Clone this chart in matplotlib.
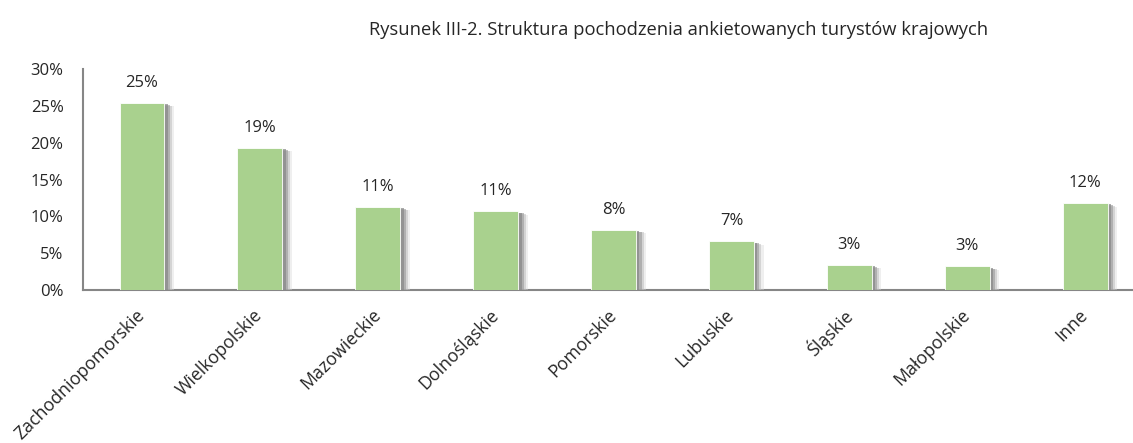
import numpy as np
import matplotlib
matplotlib.use('Agg')
import matplotlib.pyplot as plt
import matplotlib.patheffects as pe
from matplotlib.ticker import FuncFormatter

# dane
regiony = ['Zachodniopomorskie', 'Wielkopolskie', 'Mazowieckie', 'Dolnośląskie',
           'Pomorskie', 'Lubuskie', 'Śląskie', 'Małopolskie', 'Inne']
udzial = [25.4, 19.3, 11.3, 10.7, 8.2, 6.6, 3.4, 3.2, 11.8]
etykiety = ['25%', '19%', '11%', '11%', '8%', '7%', '3%', '3%', '12%']
y_ticks = [0, 5, 10, 15, 20, 25, 30]

plt.rcParams['font.family'] = ['Open Sans', 'DejaVu Sans']

W, H = 1133, 443
fig = plt.figure(figsize=(W / 100, H / 100), dpi=100)
ax = fig.add_axes([83 / W, (H - 290) / H, (1133 - 83) / W, 221 / H])

x = np.arange(len(regiony))
# cien slupkow - kilka warstw zeby wygladal na rozmyty
shadow = [pe.SimplePatchShadow(offset=(7, -2.5), shadow_rgbFace='#d8d8d8', alpha=0.4),
          pe.SimplePatchShadow(offset=(5.5, -2), shadow_rgbFace='#bbbbbb', alpha=0.5),
          pe.SimplePatchShadow(offset=(4, -1.5), shadow_rgbFace='#999999', alpha=0.6),
          pe.SimplePatchShadow(offset=(2.5, -1), shadow_rgbFace='#888888', alpha=0.7),
          pe.Normal()]
bars = ax.bar(x, udzial, width=0.38, color='#a9d18e', edgecolor='white', linewidth=0.6,
              path_effects=shadow, zorder=3)

for xi, v, lab in zip(x, udzial, etykiety):
    ax.annotate(lab, (xi, v), xytext=(0, 20), textcoords='offset pixels',
                ha='center', va='center', fontsize=12, color='#262626')

ax.set_xlim(-0.5, -0.5 + 1050 / 117.9)
ax.set_ylim(0, 30)
ax.set_yticks(y_ticks)
ax.yaxis.set_major_formatter(FuncFormatter(lambda v, p: '%d%%' % v))
ax.set_xticks(x)
ax.set_xticklabels(regiony, rotation=45, ha='right', va='center', rotation_mode='anchor',
                   fontsize=12.8, color='#262626')
ax.tick_params(axis='both', length=0, colors='#262626')
ax.tick_params(axis='y', labelsize=12, pad=14)
ax.tick_params(axis='x', pad=16)
for s in ['top', 'right']:
    ax.spines[s].set_visible(False)
for s in ['left', 'bottom']:
    ax.spines[s].set_color('#868686')
    ax.spines[s].set_linewidth(1.5)

fig.text(679 / W, 1 - 30 / H, 'Rysunek III-2. Struktura pochodzenia ankietowanych turystów krajowych',
         ha='center', va='center', fontsize=13.2, color='#262626')

fig.savefig('out.png', dpi=100)
